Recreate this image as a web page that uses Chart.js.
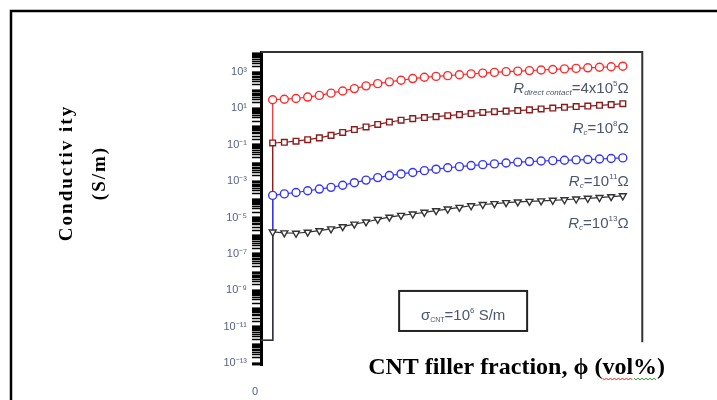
<!DOCTYPE html>
<html>
<head>
<meta charset="utf-8">
<script src="https://cdn.jsdelivr.net/npm/chart.js@4.4.0/dist/chart.umd.min.js"></script>
<style>
  html, body { margin: 0; padding: 0; background: #fff; }
  #wrap { position: relative; width: 717px; height: 400px; }
</style>
</head>
<body>
<div id="wrap"><canvas id="myChart"></canvas></div>
<script>
// CNT filler fraction (vol%) of each marker
const xPhi = [0.03, 0.06, 0.09, 0.12, 0.15, 0.18, 0.21, 0.24, 0.27, 0.30, 0.33, 0.36, 0.39, 0.42, 0.45, 0.48,
              0.51, 0.54, 0.57, 0.60, 0.63, 0.66, 0.69, 0.72, 0.75, 0.78, 0.81, 0.84, 0.87, 0.90, 0.93];

// below the percolation threshold (no marker)
const belowPhi = [0, 0.03];
const belowSigma = 1.8e-12;

// conductivity (S/m)
const sigmaDirect = [30, 32, 35, 42, 52, 69, 91, 123, 174, 229, 288, 355, 437, 513, 575, 631,
                     708, 794, 871, 955, 1050, 1120, 1200, 1290, 1380, 1480, 1580, 1700, 1820, 1950, 2090];
const sigmaRc8 = [0.126, 0.138, 0.158, 0.191, 0.240, 0.331, 0.479, 0.692, 0.955, 1.32, 1.78, 2.24, 2.75, 3.16, 3.55, 3.98,
                  4.57, 5.25, 6.03, 6.61, 7.08, 7.59, 8.32, 9.33, 10.5, 11.5, 12.6, 13.5, 14.8, 16.2, 18.2];
const sigmaRc11 = [1.66e-4, 2.0e-4, 2.4e-4, 3.0e-4, 3.7e-4, 4.6e-4, 6.0e-4, 8.3e-4, 1.15e-3, 1.58e-3, 2.04e-3, 2.51e-3,
                   3.02e-3, 3.80e-3, 4.57e-3, 5.50e-3, 6.31e-3, 7.24e-3, 8.13e-3, 8.91e-3, 1.0e-2, 1.12e-2, 1.20e-2,
                   1.29e-2, 1.35e-2, 1.41e-2, 1.48e-2, 1.55e-2, 1.66e-2, 1.78e-2, 1.91e-2];
const sigmaRc13 = [1.62e-6, 1.45e-6, 1.38e-6, 1.58e-6, 1.91e-6, 2.40e-6, 3.16e-6, 4.37e-6, 5.75e-6, 7.94e-6, 1.05e-5,
                   1.32e-5, 1.58e-5, 1.95e-5, 2.40e-5, 2.95e-5, 3.63e-5, 4.47e-5, 5.25e-5, 5.89e-5, 6.61e-5, 7.24e-5,
                   7.76e-5, 8.32e-5, 8.91e-5, 9.55e-5, 1.05e-4, 1.15e-4, 1.26e-4, 1.41e-4, 1.58e-4];

// decades that carry a label on the y axis
const yLabelExp = [-13, -11, -9, -7, -5, -3, -1, 1, 3];
const xTickLabels = ['0'];

const SUP = { '-': '\u207B', '0': '\u2070', '1': '\u00B9', '2': '\u00B2', '3': '\u00B3', '4': '\u2074',
              '5': '\u2075', '6': '\u2076', '7': '\u2077', '8': '\u2078', '9': '\u2079' };
const sup = s => String(s).split('').map(c => SUP[c]).join('');

function serie(values, color, style, rot) {
    const pts = belowPhi.map(x => ({ x: x, y: belowSigma }))
        .concat(xPhi.map((x, i) => ({ x: x, y: values[i] })));
    return {
        data: pts,
        showLine: true,
        borderColor: color,
        borderWidth: 1.2,
        pointStyle: style,
        pointRotation: rot || 0,
        pointRadius: ctx => ctx.dataIndex < 2 ? 0 : 4,
        pointBorderColor: color,
        pointBackgroundColor: '#fff',
        pointBorderWidth: 1.4
    };
}

// draws text made of pieces (sub / superscripts)
function richText(ctx, parts, xPos, yPos, align) {
    let w = 0;
    parts.forEach(p => { ctx.font = p.font; w += ctx.measureText(p.text).width; });
    let cx = align === 'right' ? xPos - w : (align === 'center' ? xPos - w / 2 : xPos);
    ctx.textAlign = 'left';
    ctx.textBaseline = 'alphabetic';
    parts.forEach(p => {
        ctx.font = p.font;
        ctx.fillText(p.text, cx, yPos + (p.dy || 0));
        cx += ctx.measureText(p.text).width;
    });
}

const big = '15px "Liberation Sans", Arial, sans-serif';
const bigI = 'italic 15px "Liberation Sans", Arial, sans-serif';
const small = '8px "Liberation Sans", Arial, sans-serif';
const smallI = 'italic 8px "Liberation Sans", Arial, sans-serif';

const overlay = {
    id: 'overlay',
    afterDraw(chart) {
        const { ctx, chartArea: a, scales: { x, y } } = chart;
        ctx.save();

        // outer frame of the figure
        ctx.strokeStyle = '#000';
        ctx.lineWidth = 2.5;
        ctx.strokeRect(11, 11, 760, 450);

        // top and right side of the plot box
        const xr = x.getPixelForValue(0.98);
        const yb = y.getPixelForValue(1.4e-12);
        ctx.strokeStyle = '#333';
        ctx.lineWidth = 2;
        ctx.beginPath();
        ctx.moveTo(a.left, a.top);
        ctx.lineTo(xr, a.top);
        ctx.lineTo(xr, yb);
        ctx.stroke();

        // curve labels
        ctx.fillStyle = '#4b5670';
        const lx = x.getPixelForValue(0.945);
        richText(ctx, [
            { text: 'R', font: bigI },
            { text: 'direct contact', font: smallI, dy: 2 },
            { text: '=4x10', font: big },
            { text: '5', font: small, dy: -7 },
            { text: '\u03A9', font: big }
        ], lx, y.getPixelForValue(Math.pow(10, 1.85)), 'right');
        [[8, -0.34], [11, -3.29], [13, -5.57]].forEach(([p, e]) => {
            richText(ctx, [
                { text: 'R', font: bigI },
                { text: 'c', font: smallI, dy: 2 },
                { text: '=10', font: big },
                { text: String(p), font: small, dy: -7 },
                { text: '\u03A9', font: big }
            ], lx, y.getPixelForValue(Math.pow(10, e)), 'right');
        });

        // sigma_CNT box
        const bx0 = x.getPixelForValue(0.355), bx1 = x.getPixelForValue(0.684);
        const by0 = y.getPixelForValue(Math.pow(10, -9.03)), by1 = y.getPixelForValue(Math.pow(10, -11.23));
        ctx.strokeStyle = '#222';
        ctx.lineWidth = 2;
        ctx.strokeRect(bx0, by0, bx1 - bx0, by1 - by0);
        richText(ctx, [
            { text: '\u03C3', font: big },
            { text: 'CNT', font: '7px "Liberation Sans", Arial, sans-serif', dy: 2 },
            { text: '=10', font: big },
            { text: '6', font: small, dy: -7 },
            { text: ' S/m', font: big }
        ], (bx0 + bx1) / 2, y.getPixelForValue(Math.pow(10, -10.63)), 'center');

        // x axis title, with the spell-check squiggle
        ctx.fillStyle = '#000';
        ctx.font = 'bold 24px "Liberation Serif", "Times New Roman", serif';
        const pre = 'CNT filler fraction, \u03D5 (';
        const title = pre + 'vol%)';
        const tw = ctx.measureText(title).width;
        const tx = x.getPixelForValue(0.657) - tw / 2;
        const base = a.bottom + 9;
        ctx.textAlign = 'left';
        ctx.textBaseline = 'alphabetic';
        ctx.fillText(title, tx, base);
        const s0 = tx + ctx.measureText(pre).width;
        const s1 = s0 + ctx.measureText('vol%').width;
        const sm = s0 + (s1 - s0) * 0.58;
        ctx.lineWidth = 1;
        [[s0, sm, '#e02020'], [sm, s1, '#2a9a2a']].forEach(([p0, p1, c]) => {
            ctx.strokeStyle = c;
            ctx.beginPath();
            for (let px = p0, k = 0; px <= p1; px += 2, k++) {
                const py = base + 4 + (k % 2 ? 2 : 0);
                if (k === 0) ctx.moveTo(px, py); else ctx.lineTo(px, py);
            }
            ctx.stroke();
        });

        // y axis title
        ctx.font = 'bold 19px "Liberation Serif", "Times New Roman", serif';
        ctx.letterSpacing = '2px';
        ctx.textAlign = 'center';
        ctx.textBaseline = 'middle';
        [['Conductiv ity', 67], ['(S/m)', 100]].forEach(([t, px]) => {
            ctx.save();
            ctx.translate(px, 173);
            ctx.rotate(-Math.PI / 2);
            ctx.fillText(t, 0, 0);
            ctx.restore();
        });
        ctx.restore();
    }
};

const ctx = document.getElementById('myChart').getContext('2d');
const myChart = new Chart(ctx, {
    type: 'scatter',
    data: {
        datasets: [
            serie(sigmaRc13, '#333333', 'triangle', 180),
            serie(sigmaRc11, '#3535ff', 'circle'),
            serie(sigmaRc8, '#8b1c1c', 'rect'),
            serie(sigmaDirect, '#ff2a2a', 'circle')
        ]
    },
    options: {
        responsive: true,
        maintainAspectRatio: false,
        animation: false,
        layout: { padding: { left: 50, right: 65, top: 52, bottom: 0 } },
        plugins: { legend: { display: false }, tooltip: { enabled: false } },
        scales: {
            x: {
                type: 'linear',
                min: 0,
                max: 1.005,
                afterBuildTicks: s => { s.ticks = [{ value: 0 }]; },
                afterFit: s => { s.height = 35; },
                ticks: {
                    padding: 12,
                    labelOffset: -6,
                    color: '#55628a',
                    font: { family: '"Liberation Sans", Arial, sans-serif', size: 11 },
                    callback: (v, i) => xTickLabels[i]
                },
                grid: { display: false },
                border: { display: false }
            },
            y: {
                type: 'logarithmic',
                min: Math.pow(10, -13.1),
                max: Math.pow(10, 4.1),
                afterFit: s => { s.width = 211; },
                afterBuildTicks: s => {
                    const t = [];
                    for (let n = -14; n <= 4; n++) {
                        for (let k = 1; k <= 9; k++) {
                            const v = k * Math.pow(10, n);
                            if (v >= s.min && v <= s.max) t.push({ value: v });
                        }
                    }
                    s.ticks = t;
                },
                ticks: {
                    autoSkip: false,
                    padding: 5,
                    color: '#55628a',
                    font: { family: '"Liberation Sans", Arial, sans-serif', size: 11 },
                    callback: v => {
                        const lg = Math.log10(v);
                        const e = Math.round(lg);
                        if (Math.abs(lg - e) < 1e-6 && yLabelExp.includes(e)) return '10' + sup(e);
                        return '';
                    }
                },
                grid: {
                    drawOnChartArea: false,
                    tickLength: 9,
                    tickColor: '#000',
                    tickWidth: c => {
                        const lg = Math.log10(c.tick.value);
                        return Math.abs(lg - Math.round(lg)) < 1e-6 ? 2.2 : 1.5;
                    }
                },
                border: { display: true, color: '#000', width: 3 }
            }
        }
    },
    plugins: [overlay]
});
</script>
</body>
</html>
